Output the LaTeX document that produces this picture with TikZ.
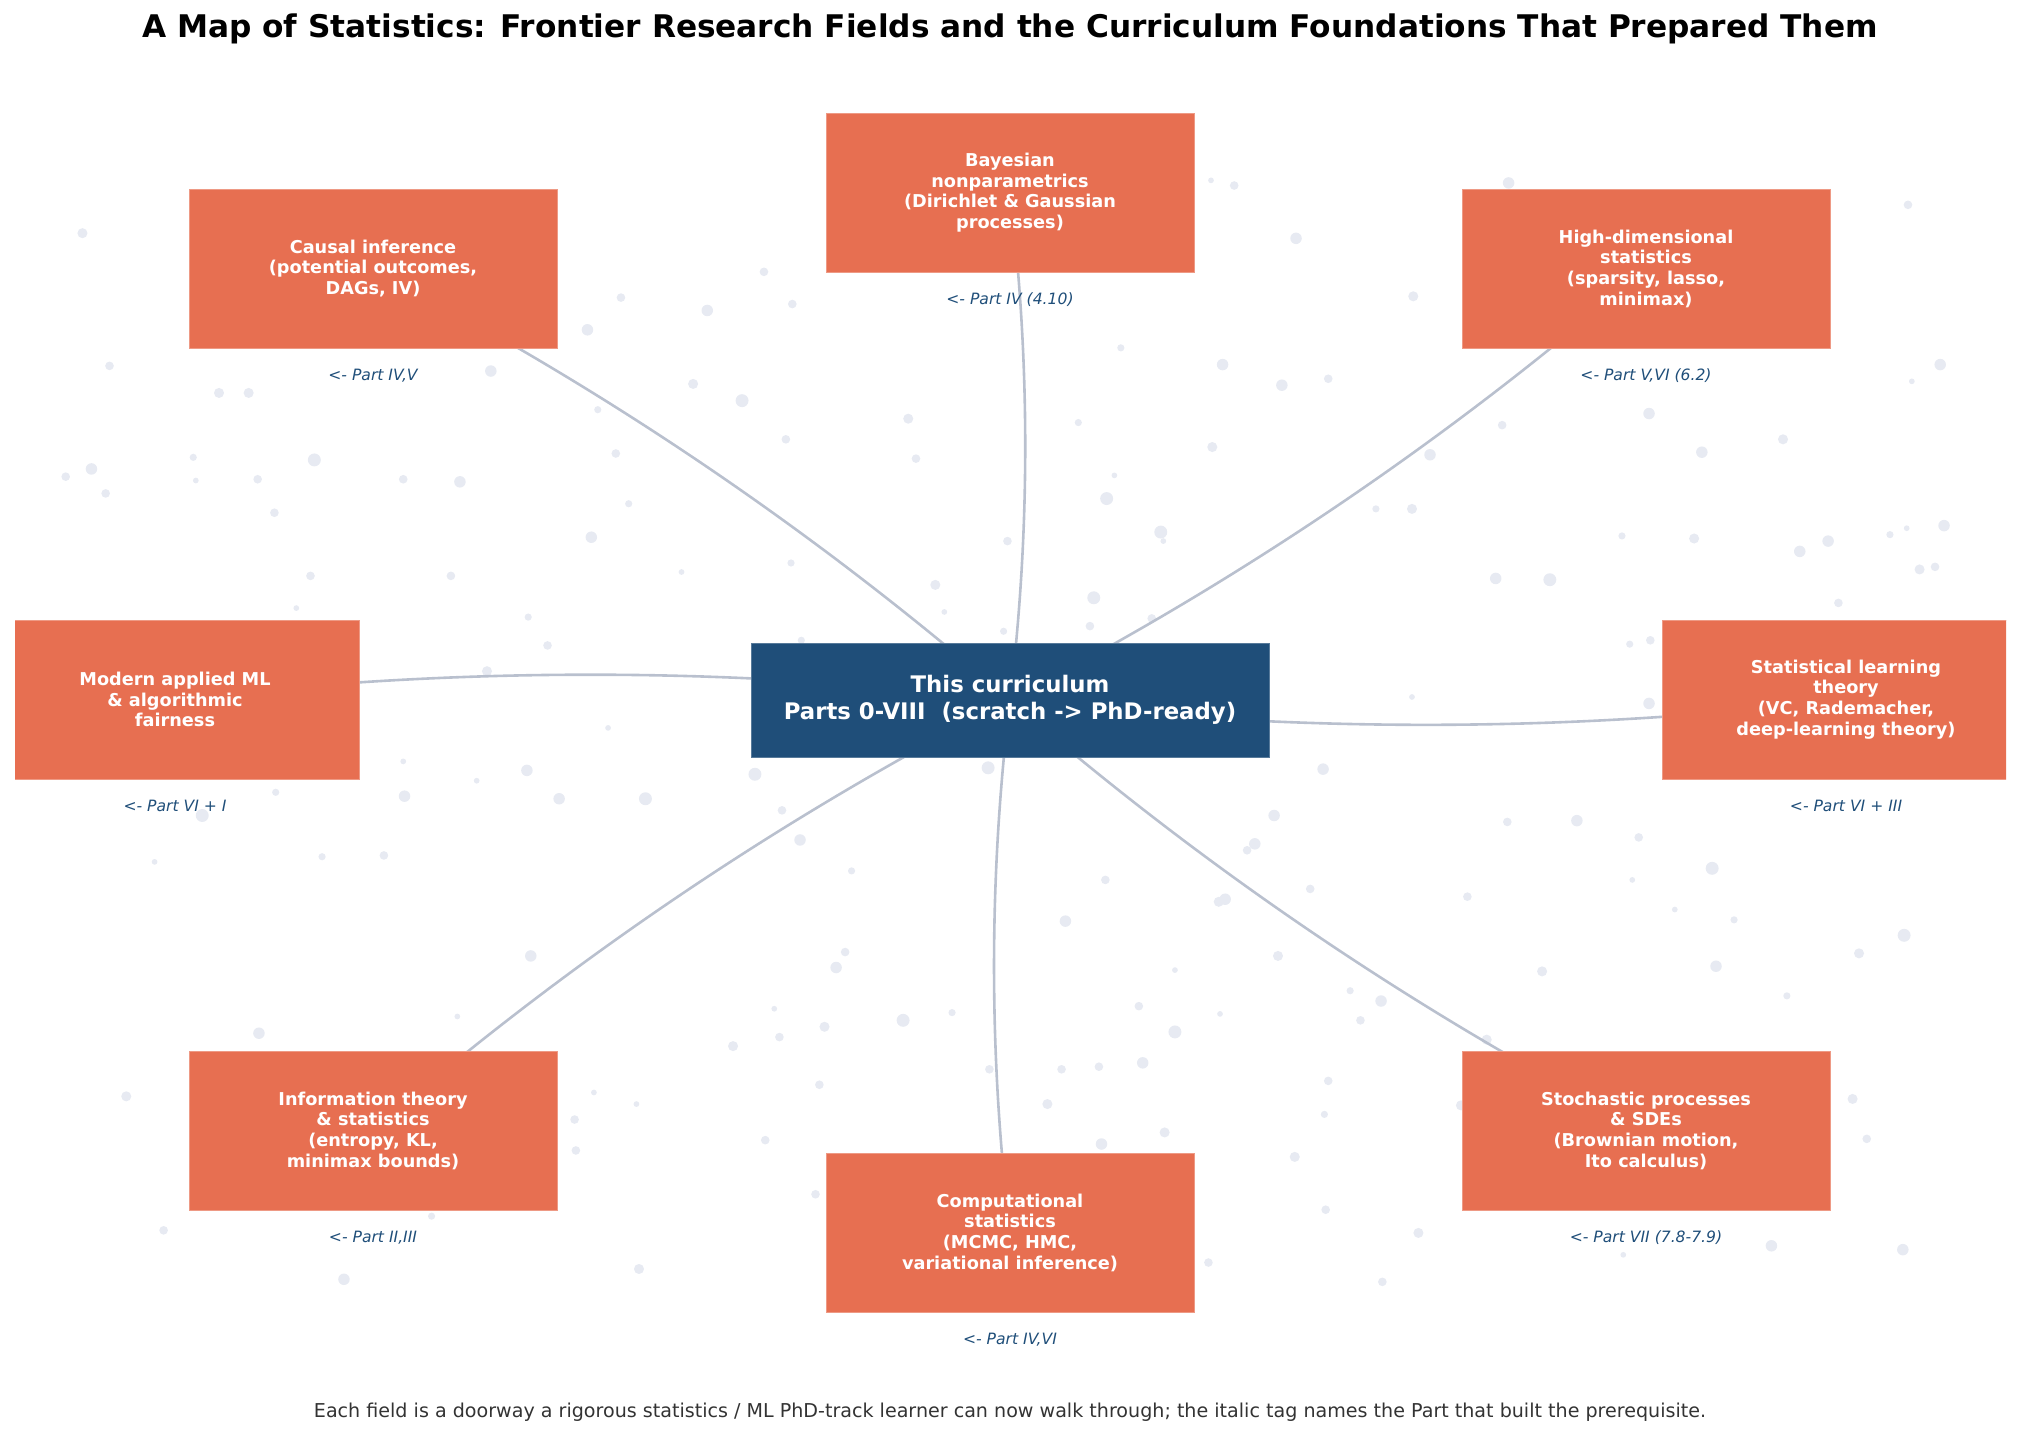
\documentclass[tikz,border=0pt]{standalone}
\usepackage{fontspec}
\setmainfont{DejaVu Sans}
\usetikzlibrary{calc}
\definecolor{boxc}{HTML}{E76F51}
\definecolor{hubc}{HTML}{1F4E79}
\definecolor{linec}{HTML}{B9C0CE}
\definecolor{dotc}{HTML}{E7EAF2}
\definecolor{footc}{HTML}{333333}
\pgfdeclarelayer{dotlayer}
\pgfdeclarelayer{linelayer}
\pgfsetlayers{dotlayer,linelayer,main}
\tikzset{
  field/.style={fill=boxc, draw=boxc!70!white, line width=0.4pt, minimum width=184pt, minimum height=79.5pt, inner sep=0pt, align=center, text=white, font=\fontsize{8.85pt}{10.35pt}\selectfont\bfseries},
  hubbox/.style={fill=hubc, draw=hubc!75!white, line width=0.4pt, minimum width=259pt, minimum height=57pt, inner sep=0pt, align=center, text=white, font=\fontsize{11.4pt}{13.35pt}\selectfont\bfseries},
  tag/.style={text=hubc, font=\fontsize{7.8pt}{9pt}\selectfont\itshape, inner sep=0pt},
  conn/.style={draw=linec, line width=1.3pt},
  bgdot/.style={fill=dotc},
  titletext/.style={font=\fontsize{15.6pt}{18pt}\selectfont\bfseries, inner sep=0pt},
  foottext/.style={text=footc, font=\fontsize{9.55pt}{11pt}\selectfont, inner sep=0pt}
}
\begin{document}
\begin{tikzpicture}[x=0.5pt,y=-0.5pt]
\useasboundingbox (0,0) rectangle (2020,1450);

\node[titletext] (title) at (1010,29) {A Map of Statistics: Frontier Research Fields and the Curriculum Foundations That Prepared Them};

\begin{scope}
\clip (15,60) rectangle (2006,1380);
\node[hubbox] (hub) at (1010,700) {This curriculum\\Parts 0-VIII\ \ (scratch -> PhD-ready)};
\node[field] (bayes) at (1010,192.5) {Bayesian\\nonparametrics\\(Dirichlet \& Gaussian\\processes)};
\node[field] (causal) at (373,268.5) {Causal inference\\(potential outcomes,\\DAGs, IV)};
\node[field] (highdim) at (1646,268.5) {High-dimensional\\statistics\\(sparsity, lasso,\\minimax)};
\node[field] (modern) at (175,699.5) {Modern applied ML\\\& algorithmic\\fairness};
\node[field] (slt) at (1846,699.5) {Statistical learning\\theory\\(VC, Rademacher,\\deep-learning theory)};
\node[field] (info) at (373,1130.5) {Information theory\\\& statistics\\(entropy, KL,\\minimax bounds)};
\node[field] (comp) at (1010,1232.5) {Computational\\statistics\\(MCMC, HMC,\\variational inference)};
\node[field] (stoch) at (1646,1130.5) {Stochastic processes\\\& SDEs\\(Brownian motion,\\Ito calculus)};
\end{scope}

\node[tag] (tbayes) at ($(bayes.south)+(0,27)$) {<- Part IV (4.10)};
\node[tag] (tcausal) at ($(causal.south)+(0,27)$) {<- Part IV,V};
\node[tag] (thighdim) at ($(highdim.south)+(0,27)$) {<- Part V,VI (6.2)};
\node[tag] (tmodern) at ($(modern.south)+(0,27)$) {<- Part VI + I};
\node[tag] (tslt) at ($(slt.south)+(0,27)$) {<- Part VI + III};
\node[tag] (tinfo) at ($(info.south)+(0,27)$) {<- Part II,III};
\node[tag] (tcomp) at ($(comp.south)+(0,27)$) {<- Part IV,VI};
\node[tag] (tstoch) at ($(stoch.south)+(0,27)$) {<- Part VII (7.8-7.9)};

\node[foottext] (foot) at (1010,1412) {Each field is a doorway a rigorous statistics / ML PhD-track learner can now walk through; the italic tag names the Part that built the prerequisite.};

\begin{pgfonlayer}{linelayer}
\foreach \n in {bayes,causal,highdim,modern,slt,info,comp,stoch}{
  \coordinate (ctl) at ($(hub.center)!0.5!(\n.center)!0.12!-90:(\n.center)$);
  \draw[conn] (hub.center) .. controls ($(hub.center)!2/3!(ctl)$) and ($(\n.center)!2/3!(ctl)$) .. (\n.center);
}
\end{pgfonlayer}

\begin{pgfonlayer}{dotlayer}
\begin{scope}[x=0.64415pt,y=-0.64415pt]
\foreach \px/\py/\r in {940/140/2,958/144/3,1171/142/4,1481/159/3,64/181/3.5,1006/185/4,593/211/3,1097/230/3.5,482/231/3,615/236/3,549/241/4,456/256/4,870/270/2.5,85/284/3,381/288/4,949/283/4,1506/283/4,538/298/3.5,995/299/4,1031/294/3,1484/296/2,170/305/3.5,193/305/3.5,576/311/4.5,464/318/2.5,1280/321/4,705/325/3.5,837/328/2.5,610/341/3,1166/330/3,1384/341/3.5,941/347/3.5,51/370/3,71/364/4,82/383/3,150/355/2.5,244/357/4.5,152/373/2,200/372/3,313/372/3,357/374/4,478/352/3,711/356/3,1110/353/4,1321/351/4,865/369/2,488/391/2.5,859/387/4.5,213/398/3,1068/395/2.5,1096/395/3.5,1509/408/4,1467/415/2.5,1480/410/2,901/413/4.5,903/420/2,1259/416/2.5,1315/418/3.5,1397/428/4,1419/420/4,782/420/3,459/417/4,1490/442/3.5,1502/440/3,241/447/3,350/447/3,529/444/2,614/437/2.5,1161/449/4,1203/450/4.5,726/454/3.5,849/464/4.5,1427/468/3,230/472/2,410/479/2.5,733/475/2,894/480/3,846/486/3,779/490/2.5,1265/500/2.5,1281/497/3,425/501/3,622/497/2.5,1096/541/2,378/521/3.5,472/565/2,313/591/2,370/606/2,409/598/4,586/601/4.5,767/596/4.5,1027/597/4,1280/546/4,157/633/4.5,214/615/2.5,314/618/4,434/620/4,501/620/4.5,607/629/3,989/633/4,1170/638/3,1224/637/4,1272/650/3,621/652/4,974/655/4,968/660/3,298/664/3,250/665/2.5,120/669/2,1329/674/4.5,661/676/2.5,1267/683/2,858/683/3,1017/690/3,1139/696/3,951/698/4,946/700/3.5,1300/706/2,1346/714/2.5,827/715/4,1478/726/4.5,656/739/3,649/751/4,992/742/3.5,412/742/4,1443/740/3.5,1332/750/4,1197/754/3.5,912/753/2,1048/769/2.5,1072/777/4,884/781/3,1387/773/2.5,601/783/2,640/797/3.5,701/792/4.5,739/786/2.5,947/787/2,1056/792/3,201/802/4,355/789/2,605/805/3,912/801/4.5,1154/807/3.5,569/812/3.5,768/830/3,824/830/3,853/828/3,887/825/4,1031/839/3,636/842/3,98/851/3.5,461/848/2,494/857/2,813/857/3.5,1438/853/3.5,1134/858/3.5,1028/865/2.5,446/869/3,904/879/3.5,594/885/3,1449/884/3,855/888/4,447/893/3,1005/898/3.5,633/927/3,1029/939/3,127/955/3,335/944/2.5,1101/957/3.5,1375/967/4,1477/970/4,1260/974/2,938/980/3,496/985/3.5,267/993/4,1073/995/3}{
  \fill[bgdot] (\px,\py) circle[radius=\r*0.72pt];
}
\end{scope}
\end{pgfonlayer}
\end{tikzpicture}
\end{document}
